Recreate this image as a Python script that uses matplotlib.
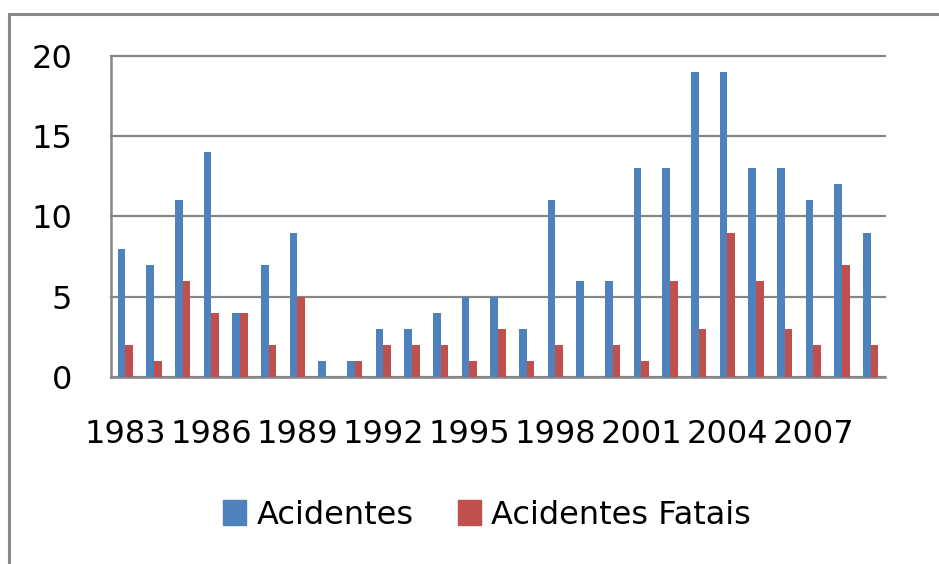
import numpy as np
import matplotlib
matplotlib.use("Agg")
import matplotlib.pyplot as plt
from matplotlib.patches import Rectangle, Patch

years = list(range(1983, 2010))
acidentes = [8, 7, 11, 14, 4, 7, 9, 1, 1, 3, 3, 4, 5, 5, 3, 11, 6, 6, 13, 13, 19, 19, 13, 13, 11, 12, 9]
fatais = [2, 1, 6, 4, 4, 2, 5, 0, 1, 2, 2, 2, 1, 3, 1, 2, 0, 2, 1, 6, 3, 9, 6, 3, 2, 7, 2]
tick_years = years[::3]

blue = "#4F81BD"
red = "#C0504D"
grid_gray = "#868686"

plt.rcParams["font.family"] = ["DejaVu Sans"]

fig = plt.figure(figsize=(9.39, 5.64), dpi=100)
ax = fig.add_axes([111 / 939, (564 - 377) / 564, (885 - 111) / 939, (377 - 56) / 564])

x = np.arange(len(years))
w = 0.27
ax.bar(x - w / 2, acidentes, w, color=blue, label="Acidentes", zorder=3)
ax.bar(x + w / 2, fatais, w, color=red, label="Acidentes Fatais", zorder=3)

ax.set_xlim(-0.5, len(years) - 0.5)
ax.set_ylim(0, 20)
ax.set_yticks([0, 5, 10, 15, 20])
ax.yaxis.grid(True, color=grid_gray, lw=1.6, zorder=0)
ax.set_axisbelow(True)
for gl in ax.get_ygridlines():
    gl.set_clip_on(False)

ax.set_xticks([years.index(y) for y in tick_years])
ax.set_xticklabels([str(y) for y in tick_years])
ax.tick_params(axis="y", length=0, pad=28, labelsize=23)
ax.tick_params(axis="x", length=0, pad=30, labelsize=23)

for s in ["top", "right"]:
    ax.spines[s].set_visible(False)
for s in ["left", "bottom"]:
    ax.spines[s].set_color(grid_gray)
    ax.spines[s].set_linewidth(1.8)

handles = [Patch(color=blue), Patch(color=red)]
fig.legend(handles, ["Acidentes", "Acidentes Fatais"], loc="center",
           bbox_to_anchor=(487 / 939, 1 - 515 / 564), ncol=2, frameon=False,
           fontsize=23, handlelength=0.72, handleheight=0.84, handletextpad=0.34,
           columnspacing=1.37)

fig.add_artist(Rectangle((9 / 939, -0.1), 2, (564 - 14) / 564 + 0.1, fill=False,
                         transform=fig.transFigure, ec="#888888", lw=2.2))

fig.savefig("out.png", dpi=100)
